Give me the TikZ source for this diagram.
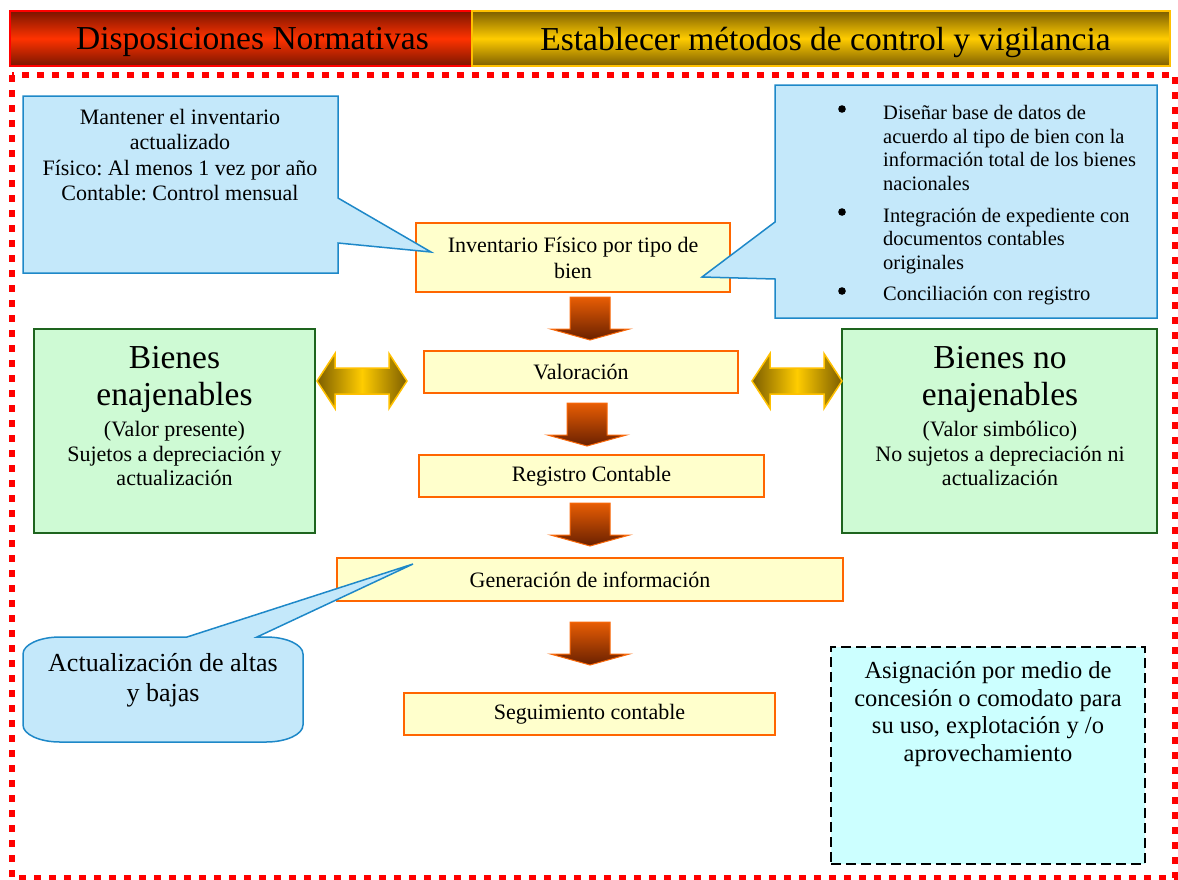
\documentclass[tikz,border=0pt]{standalone}
\usepackage{fontspec}
\setmainfont{Liberation Serif}
\usetikzlibrary{calc}
\frenchspacing
\definecolor{hdark}{RGB}{122,21,0}
\definecolor{hred}{RGB}{255,51,0}
\definecolor{ydark}{RGB}{125,94,0}
\definecolor{ygold}{RGB}{255,204,0}
\definecolor{yedge}{RGB}{255,192,0}
\definecolor{cfill}{RGB}{196,232,250}
\definecolor{cborder}{RGB}{30,136,200}
\definecolor{boxyellow}{RGB}{255,255,204}
\definecolor{boxorange}{RGB}{255,102,0}
\definecolor{gfill}{RGB}{206,250,212}
\definecolor{gborder}{RGB}{30,100,30}
\definecolor{dfill}{RGB}{204,255,255}
\definecolor{aorange}{RGB}{232,93,4}
\definecolor{abrown}{RGB}{105,32,0}
\definecolor{aedge}{RGB}{250,105,10}
\begin{document}
\begin{tikzpicture}[x=1pt,y=-1pt,
  txt/.style={inner sep=0pt, align=center, text=black},
  ybox/.style={draw=boxorange, line width=2pt, fill=boxyellow, inner sep=0pt,
    align=center, font=\fontsize{22}{26}\selectfont},
  gbox/.style={draw=gborder, line width=2pt, fill=gfill, inner sep=0pt},
  call/.style={draw=cborder, fill=cfill, line width=1.5pt, line join=miter},
  darrow/.pic={\shadedraw[left color=ydark, right color=ydark, middle color=ygold,
      draw=yedge, line width=1.5pt]
      (-45,0) -- (-27,-27.5) -- (-27,-13) -- (27,-13) -- (27,-27.5) -- (45,0)
      -- (27,27.5) -- (27,13) -- (-27,13) -- (-27,27.5) -- cycle;},
  downarr/.pic={\shadedraw[top color=aorange, bottom color=abrown, draw=aedge, line width=1pt]
      (-20,0) -- (20,0) -- (20,32) -- (39.5,32) -- (0,43) -- (-39.5,32) -- (-20,32) -- cycle;}
]
\useasboundingbox (0,0) rectangle (1178,879);

% header
\node[shade, top color=hdark, bottom color=hdark, middle color=hred, draw=red, line width=1.5pt,
  minimum width=462, minimum height=55, inner sep=0pt] (h1) at (241,38.5) {};
\node[shade, top color=ydark, bottom color=ydark, middle color=ygold, draw=yedge, line width=1.5pt,
  minimum width=698, minimum height=55, inner sep=0pt] (h2) at (821,38.5) {};
\node[txt, font=\fontsize{33.5}{38}\selectfont] (h1t) at (252.5,42) {Disposiciones Normativas};
\node[txt, font=\fontsize{33.5}{38}\selectfont] (h2t) at (825.5,42) {Establecer métodos de control y vigilancia};

% dotted frame
\draw[red, line width=6.5pt, dash pattern=on 7pt off 8pt] (12,75) rectangle (1175,878);

% process boxes
\node[ybox, minimum width=314, minimum height=69] (inv) at (573,257.5) {Inventario Físico por tipo de\\bien};
\node[ybox, minimum width=314, minimum height=42] (val) at (581,372) {Valoración};
\node[ybox, minimum width=345, minimum height=42] (reg) at (591.5,476) {Registro Contable};
\node[ybox, minimum width=506, minimum height=43] (gen) at (590,579.5) {Generación de información};
\node[ybox, minimum width=371, minimum height=42] (seg) at (589.5,714) {Seguimiento contable};

% down block arrows
\pic at (590,297) {downarr};
\pic at (587,403) {downarr};
\pic at (590,503) {downarr};
\pic at (590,622) {downarr};

% green boxes
\node[gbox, minimum width=281, minimum height=204] (lg) at (174.5,431) {};
\node[txt, font=\fontsize{33.5}{37}\selectfont] (lgt1) at (174.5,379) {Bienes\\enajenables};
\node[txt, font=\fontsize{22}{24.5}\selectfont] (lgt2) at (174.5,453.5) {(Valor presente)\\Sujetos a depreciación y\\actualización};
\node[gbox, minimum width=315, minimum height=204] (rg) at (999.5,431) {};
\node[txt, font=\fontsize{33.5}{37}\selectfont] (rgt1) at (1000,379) {Bienes no\\enajenables};
\node[txt, font=\fontsize{22}{24.5}\selectfont] (rgt2) at (1000,453.5) {(Valor simbólico)\\No sujetos a depreciación ni\\actualización};

% double arrows
\pic at ($(lg.east)+(46,-50)$) {darrow};
\pic at ($(rg.west)+(-44,-50)$) {darrow};

% dashed box
\node[draw=black, dash pattern=on 10pt off 5pt, line width=1.5pt, fill=dfill,
  minimum width=314, minimum height=217, inner sep=0pt] (asg) at (988,755.5) {};
\node[txt, font=\fontsize{24.5}{27.7}\selectfont] (asgt) at (988,714)
  {Asignación por medio de\\concesión o comodato para\\su uso, explotación y /o\\aprovechamiento};

% left callout
\filldraw[call] (23,96) -- (338,96) -- (338,198) -- ($(inv.west)+(16,-5.5)$) -- (338,243)
  -- (338,273) -- (23,273) -- cycle;
\node[txt, font=\fontsize{22}{25.3}\selectfont] (lct) at (180,155)
  {Mantener el inventario\\actualizado\\Físico: Al menos 1 vez por año\\Contable: Control mensual};

% right callout
\filldraw[call] (775,85) -- (1157,85) -- (1157,318) -- (775,318) -- (775,279)
  -- ($(inv.east)+(-29,19.5)$) -- (775,222) -- cycle;
\foreach \yy in {109,212,291} \fill[black] (842,\yy) circle[radius=3.8pt];
\foreach \t/\yy [count=\i] in {Diseñar base de datos de/119, acuerdo al tipo de bien con la/143,
  información total de los bienes/166, nacionales/190, Integración de expediente con/222,
  documentos contables/245, originales/269, Conciliación con registro/300}
  \node[txt, anchor=base west, font=\fontsize{20.5}{24}\selectfont] (rl\i) at (883,\yy) {\t};

% bottom-left rounded callout
\filldraw[call] (187,637) -- ($(gen.west)+(77,-15.5)$) -- (257,637) -- (266,637)
  .. controls (286.4,637) and (303,644.6) .. (303,654) -- (303,725)
  .. controls (303,734.4) and (286.4,742) .. (266,742) -- (60,742)
  .. controls (39.6,742) and (23,734.4) .. (23,725) -- (23,654)
  .. controls (23,644.6) and (39.6,637) .. (60,637) -- cycle;
\node[txt, font=\fontsize{26}{30}\selectfont] (act) at (163,680) {Actualización de altas\\y bajas};

\end{tikzpicture}
\end{document}
